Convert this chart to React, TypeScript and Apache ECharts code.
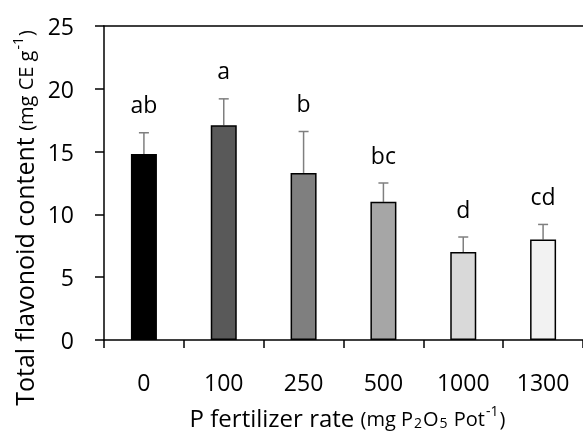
import React, { useEffect, useRef } from "react";
import * as echarts from "echarts";

const categories = ["0", "100", "250", "500", "1000", "1300"];
const meanValues = [14.8, 17.1, 13.3, 11.0, 7.0, 8.0];
const errorTops = [16.5, 19.2, 16.6, 12.5, 8.2, 9.2];
const letters = ["ab", "a", "b", "bc", "d", "cd"];
const barColors = ["#000000", "#595959", "#7f7f7f", "#a6a6a6", "#d9d9d9", "#f2f2f2"];
const yTicks = { min: 0, max: 25, interval: 5 };

const FONT = "'Open Sans', 'Noto Sans', sans-serif";

export default function App() {
  const ref = useRef<HTMLDivElement>(null);
  useEffect(() => {
    if (!ref.current) return;
    const chart = echarts.init(ref.current, null, { renderer: "svg" });
    chart.setOption({
      animation: false,
      textStyle: { fontFamily: FONT, color: "#000" },
      grid: { left: 104, top: 26, bottom: 93, width: 483 },
      xAxis: [
        {
          type: "category",
          data: categories,
          position: "bottom",
          axisLine: { lineStyle: { color: "#000", width: 1.5 } },
          axisTick: { show: true, length: 8, alignWithLabel: false, lineStyle: { color: "#000", width: 1.5 } },
          axisLabel: { color: "#000", fontSize: 23, fontFamily: FONT, margin: 30 },
          name: "{a|P fertilizer rate }{b|(mg P}{s|2}{b|O}{s|5}{b| Pot}{u|-1}{b|)}",
          nameLocation: "middle",
          nameGap: 57,
          nameTextStyle: {
            padding: [0, 0, 0, 8],
            rich: {
              a: { fontSize: 24, fontFamily: FONT, color: "#000", lineHeight: 32, verticalAlign: "bottom" },
              b: { fontSize: 20, fontFamily: FONT, color: "#000", lineHeight: 32, verticalAlign: "bottom", padding: [0, 0, 1, 0] },
              s: { fontSize: 14, fontFamily: FONT, color: "#000", verticalAlign: "bottom", padding: [0, 1, 0, 1] },
              u: { fontSize: 14, fontFamily: FONT, color: "#000", verticalAlign: "bottom", padding: [0, 1, 12, 1] },
            },
          },
        },
        {
          type: "category",
          data: categories,
          position: "top",
          axisLine: { show: true, lineStyle: { color: "#000", width: 1.5 } },
          axisTick: { show: false },
          axisLabel: { show: false },
        },
      ],
      yAxis: {
        type: "value",
        min: yTicks.min,
        max: yTicks.max,
        interval: yTicks.interval,
        splitLine: { show: false },
        axisLine: { show: true, lineStyle: { color: "#000", width: 1.5 } },
        axisTick: { show: true, length: 9, lineStyle: { color: "#000", width: 1.5 } },
        axisLabel: { color: "#000", fontSize: 23, fontFamily: FONT, margin: 30 },
        name: "{a|Total flavonoid content }{b|(mg CE g}{u|-1}{b|)}",
        nameLocation: "middle",
        nameGap: 66,
        nameTextStyle: {
          padding: [0, 70, 0, 0],
          rich: {
            a: { fontSize: 25, fontFamily: FONT, color: "#000", lineHeight: 32, verticalAlign: "bottom" },
            b: { fontSize: 20, fontFamily: FONT, color: "#000", lineHeight: 32, verticalAlign: "bottom", padding: [0, 0, 1, 0] },
            u: { fontSize: 14, fontFamily: FONT, color: "#000", verticalAlign: "bottom", padding: [0, 1, 12, 1] },
          },
        },
      },
      series: [
        {
          type: "bar",
          barWidth: 26,
          data: meanValues.map((v, i) => ({
            value: v,
            itemStyle: { color: barColors[i], borderColor: "#000", borderWidth: 1.5 },
          })),
        },
        {
          type: "custom",
          data: meanValues.map((v, i) => [i, v, errorTops[i]]),
          z: 1,
          renderItem: (params: any, api: any) => {
            const i = api.value(0);
            const base = api.coord([i, api.value(1)]);
            const top = api.coord([i, api.value(2)]);
            const cap = 5;
            const st = { stroke: "#7f7f7f", lineWidth: 1.5 };
            return {
              type: "group",
              children: [
                { type: "line", shape: { x1: base[0], y1: base[1], x2: top[0], y2: top[1] }, style: st },
                { type: "line", shape: { x1: top[0] - cap, y1: top[1], x2: top[0] + cap, y2: top[1] }, style: st },
                {
                  type: "text",
                  x: top[0],
                  y: top[1] - 17,
                  style: {
                    text: letters[params.dataIndex],
                    fontSize: 23,
                    fontFamily: FONT,
                    fill: "#000",
                    align: "center",
                    verticalAlign: "bottom",
                  },
                },
              ],
            };
          },
        },
      ],
    });
    return () => chart.dispose();
  }, []);
  return (
    <div
      ref={ref}
      style={{ position: "fixed", left: 0, top: 0, width: 583, height: 434 }}
    />
  );
}
